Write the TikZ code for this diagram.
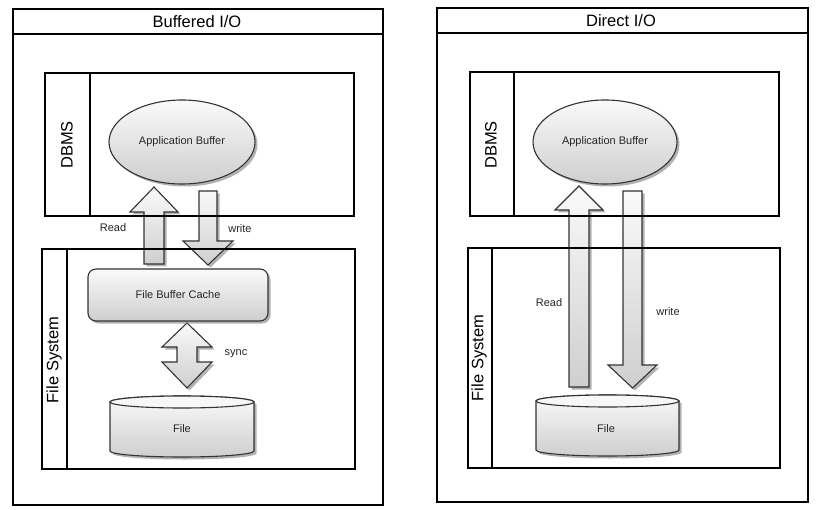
\documentclass[tikz,border=0pt]{standalone}
\usepackage{fontspec}
\setmainfont{Liberation Sans}
\usetikzlibrary{shadows,shapes.geometric}
\begin{document}
\begin{tikzpicture}[x=1pt,y=1pt,
  frame/.style={draw=black, line width=1.8pt, inner sep=0pt, anchor=south west},
  lane/.style={draw=black, line width=1.7pt, inner sep=0pt, anchor=south west},
  gshade/.style={top color=gray!4, bottom color=gray!38, draw=black!80, line width=1.1pt,
    drop shadow={shadow xshift=2.5pt, shadow yshift=-2.5pt, fill=black!50, opacity=0.6}},
  titletext/.style={font=\fontsize{16.5}{18}\selectfont},
  lanelabel/.style={font=\fontsize{16.5}{18}\selectfont, rotate=90},
  smalltext/.style={font=\fontsize{11}{13}\selectfont, text=black!85},
]
\useasboundingbox (0,0) rectangle (818,509);
\fill[white] (0,0) rectangle (818,509);

% ===================== Buffered I/O =====================
% block arrows (behind the frames)
\path[gshade] (144,245) -- (144,297) -- (130,297) -- (154,322) -- (178,297) -- (164,297) -- (164,245) -- cycle;
\path[gshade] (199,318) -- (199,268) -- (183,268) -- (208,244) -- (233,268) -- (217,268) -- (217,318) -- cycle;
\path[gshade] (187,186) -- (212,162) -- (197,162) -- (197,147) -- (212,147) -- (187,121) -- (162,147) -- (177,147) -- (177,162) -- (162,162) -- cycle;

\node[frame, minimum width=370, minimum height=496] (bufF) at (12,3) {};
\draw[line width=1.8pt] (bufF.west |- 0,475) -- (bufF.east |- 0,475);
\node[titletext] (bufT) at (197,487) {Buffered I/O};

\node[lane, minimum width=309, minimum height=143] (bufDB) at (44,292) {};
\draw[line width=1.7pt] (90,292) -- (90,435);
\node[lanelabel] (bufDBl) at (67,364) {DBMS};

\node[lane, minimum width=313, minimum height=220] (bufFS) at (41,39) {};
\draw[line width=1.7pt] (67,39) -- (67,259);
\node[lanelabel] (bufFSl) at (54,149) {File System};

\node[ellipse, gshade, minimum width=146, minimum height=84, smalltext] (bufApp) at (182,367) {Application Buffer};
\node[rectangle, rounded corners=8pt, gshade, minimum width=180, minimum height=52, smalltext] (bufFBC) at (178,214) {File Buffer Cache};

\path[gshade] (110,107) -- (110,58) arc[start angle=180, end angle=360, x radius=72, y radius=6] -- (254,107) arc[start angle=0, end angle=180, x radius=72, y radius=6] -- cycle;
\draw[fill=gray!6, draw=black!80, line width=1.1pt] (182,107) ellipse[x radius=72, y radius=6];
\node[smalltext] (bufFile) at (182,80) {File};

\node[smalltext] (bufRead) at (113,281) {Read};
\node[smalltext] (bufWrite) at (240,280) {write};
\node[smalltext] (bufSync) at (236,155) {sync};

% ===================== Direct I/O =====================
\path[gshade] (569,122) -- (569,299) -- (555,299) -- (579,323) -- (603,299) -- (589,299) -- (589,122) -- cycle;
\path[gshade] (623,318) -- (623,144) -- (608,144) -- (632.5,121) -- (657,144) -- (642,144) -- (642,318) -- cycle;

\node[frame, minimum width=371, minimum height=494] (dirF) at (436,6) {};
\draw[line width=1.8pt] (dirF.west |- 0,476) -- (dirF.east |- 0,476);
\node[titletext] (dirT) at (621,488) {Direct I/O};

\node[lane, minimum width=309, minimum height=144] (dirDB) at (469,292) {};
\draw[line width=1.7pt] (514,292) -- (514,436);
\node[lanelabel] (dirDBl) at (491,364) {DBMS};

\node[lane, minimum width=312, minimum height=220] (dirFS) at (467,40) {};
\draw[line width=1.7pt] (492,40) -- (492,260);
\node[lanelabel] (dirFSl) at (479,151) {File System};

\node[ellipse, gshade, minimum width=144, minimum height=84, smalltext] (dirApp) at (605,367) {Application Buffer};

\path[gshade] (536,108) -- (536,59) arc[start angle=180, end angle=360, x radius=71.5, y radius=6] -- (679,108) arc[start angle=0, end angle=180, x radius=71.5, y radius=6] -- cycle;
\draw[fill=gray!6, draw=black!80, line width=1.1pt] (607.5,108) ellipse[x radius=71.5, y radius=6];
\node[smalltext] (dirFile) at (606,80) {File};

\node[smalltext] (dirRead) at (549,206) {Read};
\node[smalltext] (dirWrite) at (668,197) {write};
\end{tikzpicture}
\end{document}
